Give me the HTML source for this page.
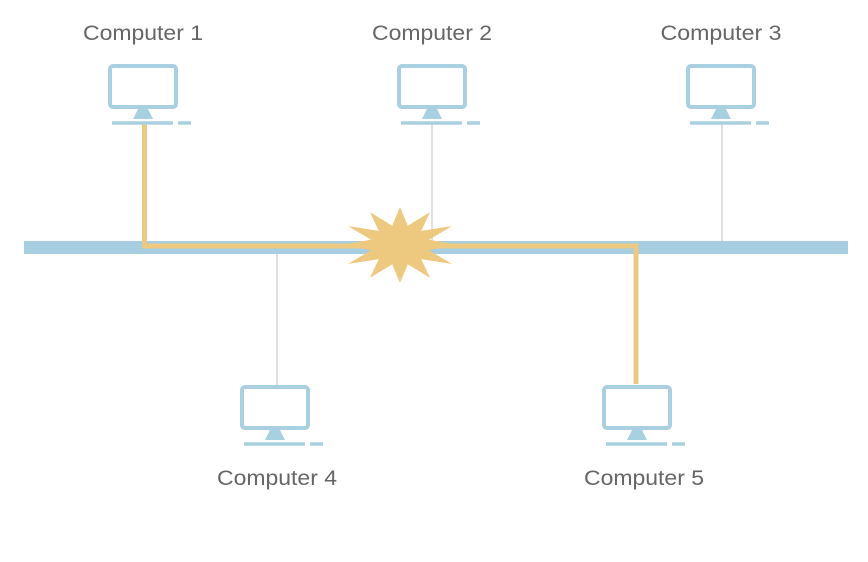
<!DOCTYPE html>
<html><head><style>html,body{margin:0;padding:0;background:#fff;}svg{display:block}</style></head>
<body>
<svg width="868" height="562" viewBox="0 0 868 562" xmlns="http://www.w3.org/2000/svg">
<defs>
<g id="pc">
<rect x="2" y="2" width="66" height="41" rx="3" fill="#fff" stroke="#a9d0e1" stroke-width="4"/>
<polygon points="30,45 40,45 45,55 25,55" fill="#a9d0e1"/>
<line x1="4" y1="59" x2="65" y2="59" stroke="#a9d0e1" stroke-width="3.5"/>
<line x1="70" y1="59" x2="83" y2="59" stroke="#a9d0e1" stroke-width="3.5"/>
</g>
</defs>
<line x1="432" y1="124" x2="432" y2="241" stroke="#d6d6d6" stroke-width="1.5"/>
<line x1="722" y1="124" x2="722" y2="241" stroke="#d6d6d6" stroke-width="1.5"/>
<line x1="277" y1="254" x2="277" y2="385" stroke="#d6d6d6" stroke-width="1.5"/>
<rect x="24" y="241" width="824" height="13" fill="#a6cde0"/>
<polyline points="144.5,124 144.5,246 636,246 636,384" fill="none" stroke="#ecc97f" stroke-width="5"/>
<use href="#pc" x="108" y="64"/>
<use href="#pc" x="397" y="64"/>
<use href="#pc" x="686" y="64"/>
<use href="#pc" x="240" y="385"/>
<use href="#pc" x="602" y="385"/>
<g font-family="Liberation Sans, sans-serif" font-size="21" fill="#666" text-anchor="middle">
<text x="143" y="40" textLength="120" lengthAdjust="spacingAndGlyphs">Computer 1</text>
<text x="432" y="40" textLength="120" lengthAdjust="spacingAndGlyphs">Computer 2</text>
<text x="721" y="40" textLength="121" lengthAdjust="spacingAndGlyphs">Computer 3</text>
<text x="277" y="485" textLength="120" lengthAdjust="spacingAndGlyphs">Computer 4</text>
<text x="644" y="485" textLength="120" lengthAdjust="spacingAndGlyphs">Computer 5</text>
</g>
<polygon fill="#ecc97f" points="400,207 407.8,225.7 430,212.1 421.2,230.9 452,226 429,239.8 460,245 429,250.2 452,264 421.2,259.1 430,277.9 407.8,264.3 400,283 392.2,264.3 370,277.9 378.8,259.1 348,264 371,250.2 340,245 371,239.8 348,226 378.8,230.9 370,212.1 392.2,225.7"/>
</svg>
</body></html>
